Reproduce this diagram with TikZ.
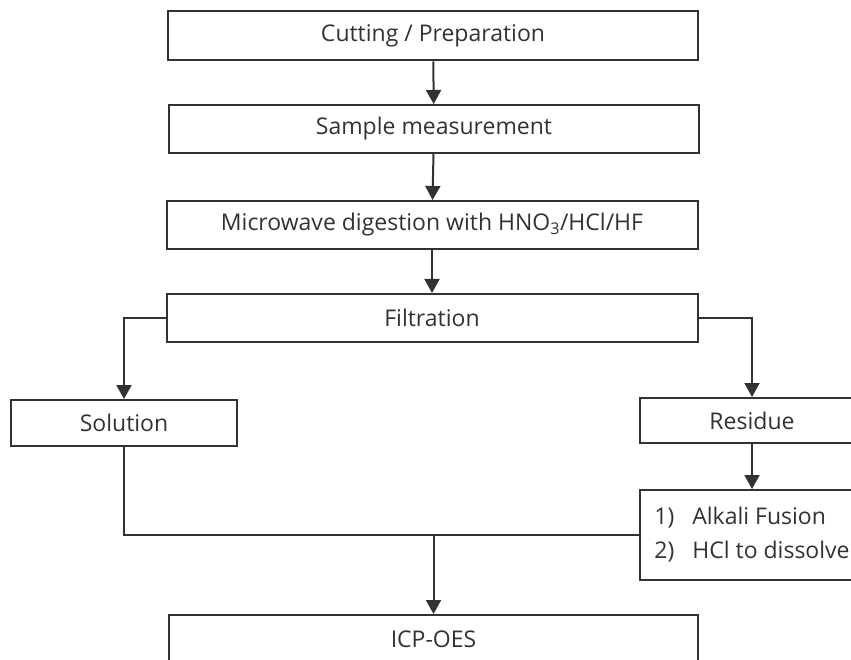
\documentclass[tikz,border=0pt]{standalone}
\usepackage{fontspec}
\setmainfont{Open Sans}
\usepackage{tikz}
\usetikzlibrary{arrows.meta}

\definecolor{ink}{RGB}{50,50,50}
\tikzset{
  box/.style={draw=ink, line width=2pt, rectangle, inner sep=0pt, text=ink,
    font=\fontsize{23}{34}\selectfont},
  flow/.style={draw=ink, line width=2pt, -{Triangle[width=15pt,length=14pt]}},
  link/.style={draw=ink, line width=2pt}
}

\begin{document}
\begin{tikzpicture}[x=1pt,y=1pt,yscale=-1,xscale=1]
%set diagram size 851 x 660
\clip (0,0) rectangle (851,660);

%Shape: Rectangle [id:cut]
\node [box, minimum width=530pt, minimum height=49pt] (cut) at (433,36) {Cutting / Preparation};
%Shape: Rectangle [id:sample]
\node [box, minimum width=530pt, minimum height=48pt] (sample) at (434,129) {Sample measurement};
%Shape: Rectangle [id:micro]
\node [box, minimum width=531pt, minimum height=48pt] (micro) at (432,225) {Microwave digestion with HNO\textsubscript{3}/HCl/HF};
%Shape: Rectangle [id:filt]
\node [box, minimum width=531pt, minimum height=48pt] (filt) at (432,318) {Filtration};
%Shape: Rectangle [id:sol]
\node [box, minimum width=226pt, minimum height=46pt] (sol) at (124,423) {Solution};
%Shape: Rectangle [id:res]
\node [box, minimum width=224pt, minimum height=45pt] (res) at (752,420.5) {Residue};
%Shape: Rectangle [id:alk]
\node [box, minimum width=224pt, minimum height=90pt] (alk) at (752,535)
  {\begin{tabular}{@{}l@{\hspace{18pt}}l@{}}1) & Alkali Fusion\\ 2) & HCl to dissolve\end{tabular}};
%Shape: Rectangle [id:icp]
\node [box, minimum width=529pt, minimum height=48pt] (icp) at (433.5,639) {ICP-OES};

%Straight Lines [id:main]
\draw [flow] (cut) -- (sample);
\draw [flow] (sample) -- (micro);
\draw [flow] (micro) -- (filt);
%Straight Lines [id:branches]
\draw [flow] (filt.west) -- (sol.north |- filt.west) -- (sol.north);
\draw [flow] (filt.east) -- (res.north |- filt.east) -- (res.north);
\draw [flow] (res) -- (alk);
%Straight Lines [id:merge]
\coordinate (join) at (icp.north |- alk.west);
\draw [link] (sol.south) -- (sol.south |- alk.west) -- (alk.west);
\draw [flow] (join) -- (icp.north);

\end{tikzpicture}
\end{document}
